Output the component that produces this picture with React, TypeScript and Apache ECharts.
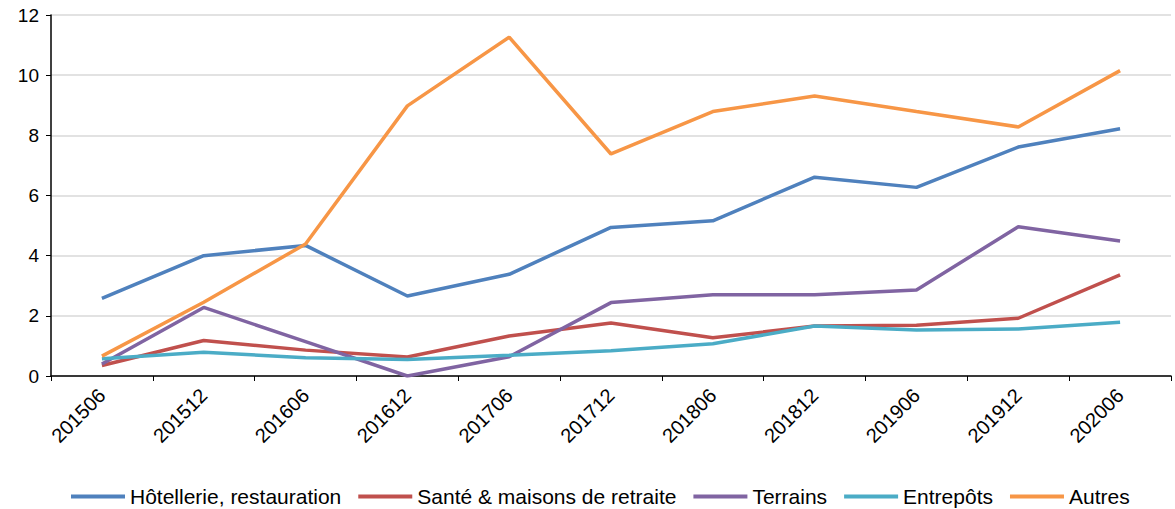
import React, { useEffect, useRef } from "react";
import * as echarts from "echarts";

const categories = ["201506", "201512", "201606", "201612", "201706", "201712", "201806", "201812", "201906", "201912", "202006"];
const hotellerie = [2.58, 4.0, 4.34, 2.66, 3.38, 4.94, 5.16, 6.61, 6.27, 7.61, 8.22];
const sante = [0.35, 1.18, 0.86, 0.63, 1.33, 1.76, 1.27, 1.66, 1.69, 1.92, 3.36];
const terrains = [0.4, 2.28, 1.14, 0.0, 0.64, 2.44, 2.7, 2.7, 2.86, 4.96, 4.49];
const entrepots = [0.57, 0.79, 0.61, 0.55, 0.69, 0.84, 1.07, 1.66, 1.53, 1.56, 1.79];
const autres = [0.66, 2.45, 4.39, 8.98, 11.26, 7.38, 8.79, 9.31, 8.79, 8.28, 10.15];

const seriesNames = ["Hôtellerie, restauration", "Santé & maisons de retraite", "Terrains", "Entrepôts", "Autres"];
const seriesData = [hotellerie, sante, terrains, entrepots, autres];
const colors = ["#4F81BD", "#C0504D", "#8064A2", "#4BACC6", "#F79646"];

export default function App() {
  const ref = useRef<HTMLDivElement>(null);
  useEffect(() => {
    document.body.style.margin = "0";
    const chart = echarts.init(ref.current!, null, { renderer: "svg" });
    const font = "Arial, 'Liberation Sans', sans-serif";
    chart.setOption({
      animation: false,
      color: colors,
      textStyle: { fontFamily: font },
      grid: { left: 51, right: 4, top: 15, bottom: 133, containLabel: false },
      legend: {
        left: 66,
        top: 481,
        itemWidth: 54,
        itemHeight: 4,
        itemGap: 17,
        icon: "rect",
        textStyle: { fontSize: 21, color: "#000", fontFamily: font },
        data: seriesNames,
      },
      xAxis: {
        type: "category",
        data: categories,
        boundaryGap: true,
        axisLine: { lineStyle: { color: "#000", width: 1.5 } },
        axisTick: { show: true, alignWithLabel: false, length: 5, lineStyle: { color: "#000" } },
        axisLabel: { rotate: 45, fontSize: 20, color: "#000", margin: 16, fontFamily: font, interval: 0 },
      },
      yAxis: {
        type: "value",
        min: 0,
        max: 12,
        interval: 2,
        axisLine: { show: true, lineStyle: { color: "#000", width: 1.5 } },
        axisTick: { show: true, length: 5, lineStyle: { color: "#000" } },
        axisLabel: { fontSize: 19, color: "#000", margin: 12, fontFamily: font },
        splitLine: { lineStyle: { color: "#D9D9D9", width: 1.5 } },
      },
      series: seriesNames.map((name, i) => ({
        name,
        type: "line",
        data: seriesData[i],
        symbol: "none",
        lineStyle: { width: 3.5, color: colors[i] },
        itemStyle: { color: colors[i] },
      })),
    });
    return () => chart.dispose();
  }, []);
  return <div ref={ref} style={{ width: 1175, height: 509 }} />;
}
